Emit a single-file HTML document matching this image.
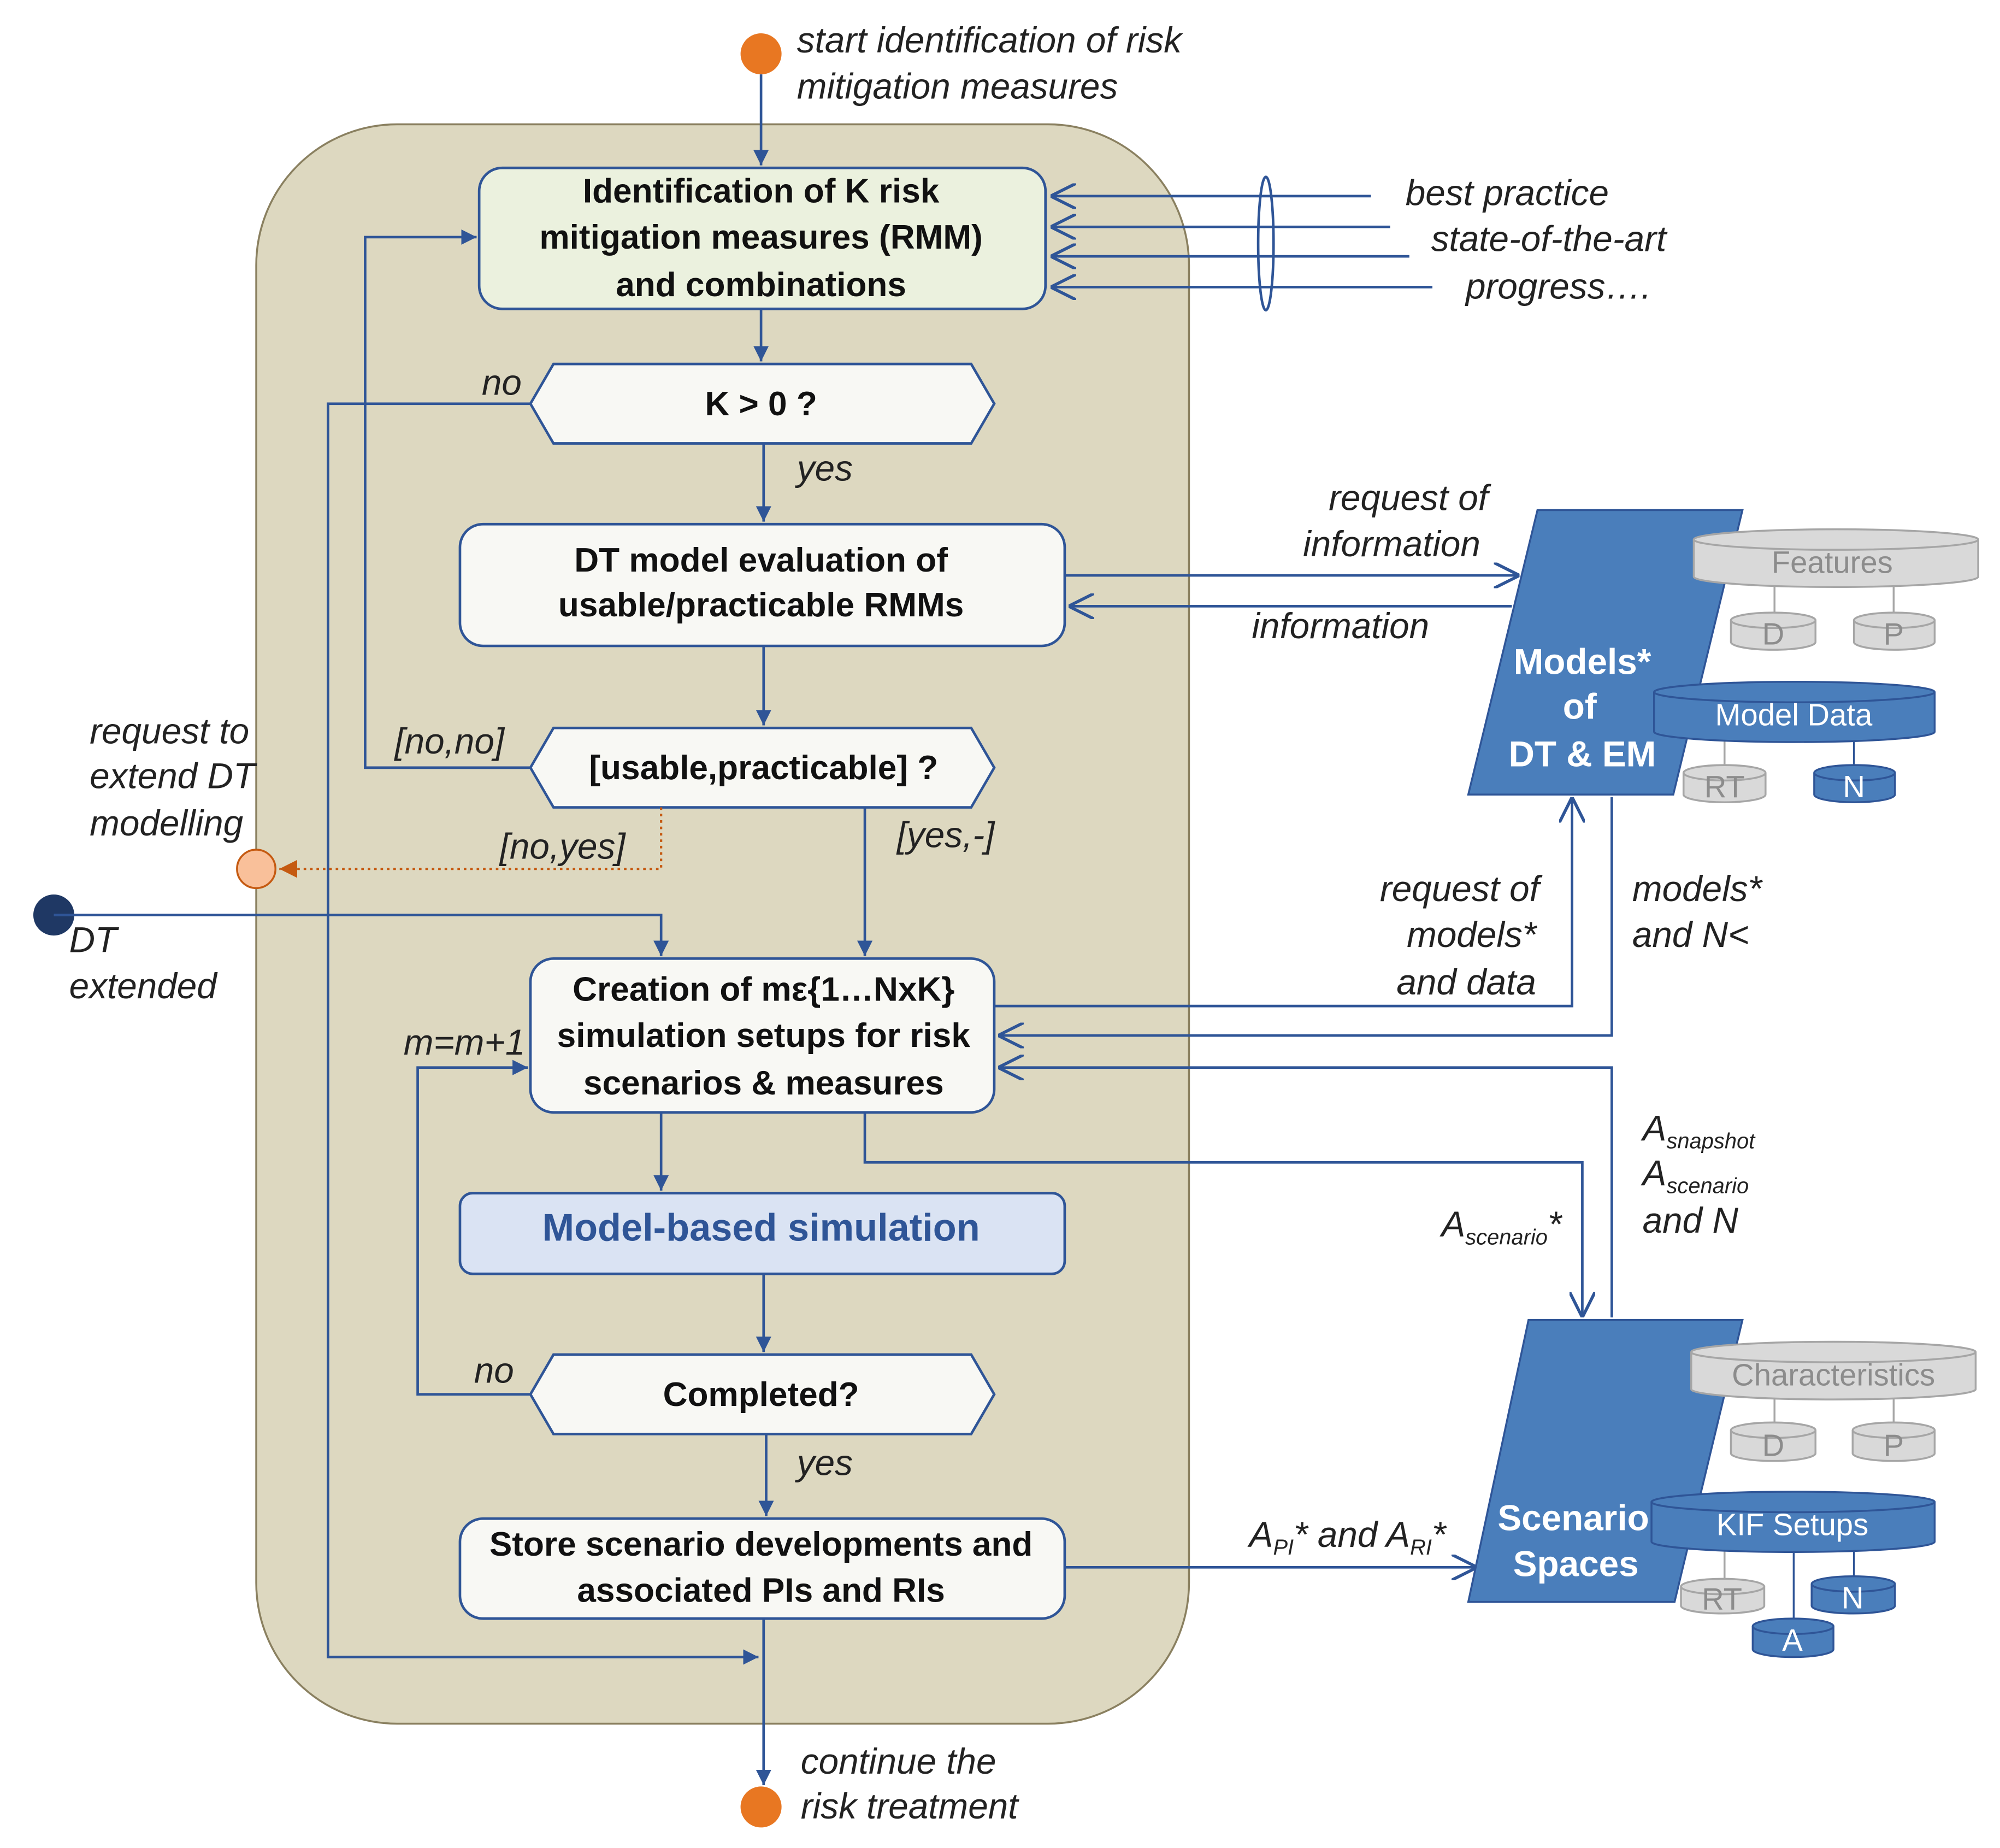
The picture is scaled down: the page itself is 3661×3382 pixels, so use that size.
<!DOCTYPE html>
<html><head><meta charset="utf-8">
<style>
html,body{margin:0;padding:0;background:#fff;}
svg{display:block;}
text{font-family:"Liberation Sans",sans-serif;}
.b{font-weight:bold;font-size:26.5px;fill:#111;}
.i{font-style:italic;font-size:28px;fill:#222;}
.w{font-weight:bold;font-size:28px;fill:#fff;}
.ln{stroke:#2f5597;stroke-width:2;fill:none;}
.box{fill:#f8f8f4;stroke:#2f5597;stroke-width:2;}
.cg{fill:#d9d9d9;stroke:#a6a6a6;stroke-width:1.5;}
.cb{fill:#4a7ebb;stroke:#2f5597;stroke-width:1.5;}
.tg{font-size:24px;fill:#8c8c8c;}
.tw{font-size:24px;fill:#fff;}
</style></head><body>
<svg width="3661" height="3382" viewBox="0 0 1561 1442" xmlns="http://www.w3.org/2000/svg">
<defs>
<marker id="a" markerWidth="12" markerHeight="12" refX="10" refY="5" orient="auto" markerUnits="userSpaceOnUse" viewBox="0 0 10 10"><path d="M0,0 L10,5 L0,10 Z" fill="#2f5597"/></marker>
<marker id="o" markerWidth="20" markerHeight="20" refX="10" refY="5" orient="auto" markerUnits="userSpaceOnUse" viewBox="0 0 10 10"><path d="M0,0 L10,5 L0,10" fill="none" stroke="#2f5597" stroke-width="1.2"/></marker>
<marker id="r" markerWidth="14" markerHeight="14" refX="10" refY="5" orient="auto" markerUnits="userSpaceOnUse" viewBox="0 0 10 10"><path d="M0,0 L10,5 L0,10 Z" fill="#c55a11"/></marker>
</defs>
<rect x="0" y="0" width="1561" height="1442" fill="#fff"/>
<rect x="200" y="97" width="728" height="1248" rx="110" fill="#ddd8c0" stroke="#8a8060" stroke-width="1.5"/>

<circle cx="594" cy="42" r="16" fill="#e87722"/>
<text class="i" x="622" y="41">start identification of risk</text>
<text class="i" x="622" y="77">mitigation measures</text>
<line class="ln" x1="594" y1="58" x2="594" y2="129" marker-end="url(#a)"/>

<rect x="374" y="131" width="442" height="110" rx="18" fill="#ebf1de" stroke="#2f5597" stroke-width="2"/>
<text class="b" x="594" y="158" text-anchor="middle">Identification of K risk</text>
<text class="b" x="594" y="194" text-anchor="middle">mitigation measures (RMM)</text>
<text class="b" x="594" y="231" text-anchor="middle">and combinations</text>
<line class="ln" x1="594" y1="241" x2="594" y2="282" marker-end="url(#a)"/>

<line class="ln" x1="1070" y1="153" x2="820" y2="153" marker-end="url(#o)"/>
<line class="ln" x1="1085" y1="177" x2="820" y2="177" marker-end="url(#o)"/>
<line class="ln" x1="1100" y1="200" x2="820" y2="200" marker-end="url(#o)"/>
<line class="ln" x1="1118" y1="224" x2="820" y2="224" marker-end="url(#o)"/>
<ellipse cx="988" cy="190" rx="6" ry="52" fill="none" stroke="#2f5597" stroke-width="2"/>
<text class="i" x="1097" y="160">best practice</text>
<text class="i" x="1117" y="196">state-of-the-art</text>
<text class="i" x="1144" y="233">progress….</text>

<polygon class="box" points="432,284 758,284 776,315 758,346 432,346 414,315"/>
<text class="b" x="594" y="324" text-anchor="middle">K &gt; 0 ?</text>
<text class="i" x="376" y="308">no</text>
<polyline class="ln" points="414,315 256,315 256,1293 592,1293" marker-end="url(#a)"/>
<text class="i" x="622" y="375">yes</text>
<line class="ln" x1="596" y1="346" x2="596" y2="407" marker-end="url(#a)"/>

<rect class="box" x="359" y="409" width="472" height="95" rx="18"/>
<text class="b" x="594" y="446" text-anchor="middle">DT model evaluation of</text>
<text class="b" x="594" y="481" text-anchor="middle">usable/practicable RMMs</text>
<line class="ln" x1="596" y1="504" x2="596" y2="566" marker-end="url(#a)"/>
<line class="ln" x1="831" y1="449" x2="1186" y2="449" marker-end="url(#o)"/>
<line class="ln" x1="1180" y1="473" x2="834" y2="473" marker-end="url(#o)"/>
<text class="i" x="1037" y="398">request of</text>
<text class="i" x="1017" y="434">information</text>
<text class="i" x="977" y="498">information</text>

<polygon class="box" points="432,568 758,568 776,599 758,630 432,630 414,599"/>
<text class="b" x="596" y="608" text-anchor="middle">[usable,practicable] ?</text>
<text class="i" x="308" y="588">[no,no]</text>
<polyline class="ln" points="414,599 285,599 285,185 372,185" marker-end="url(#a)"/>
<text class="i" x="390" y="670">[no,yes]</text>
<polyline points="516,630 516,678 218,678" fill="none" stroke="#c55a11" stroke-width="1.8" stroke-dasharray="2,3" marker-end="url(#r)"/>
<circle cx="200" cy="678" r="15" fill="#f9c09a" stroke="#c55a11" stroke-width="1.5"/>
<text class="i" x="70" y="580">request to</text>
<text class="i" x="70" y="615">extend DT</text>
<text class="i" x="70" y="652">modelling</text>
<text class="i" x="700" y="661">[yes,-]</text>
<line class="ln" x1="675" y1="630" x2="675" y2="746" marker-end="url(#a)"/>

<circle cx="42" cy="714" r="16" fill="#1f3864"/>
<polyline class="ln" points="42,714 516,714 516,746" marker-end="url(#a)"/>
<text class="i" x="54" y="743">DT</text>
<text class="i" x="54" y="779">extended</text>

<rect class="box" x="414" y="748" width="362" height="120" rx="18"/>
<text class="b" x="596" y="781" text-anchor="middle">Creation of mε{1…NxK}</text>
<text class="b" x="596" y="817" text-anchor="middle">simulation setups for risk</text>
<text class="b" x="596" y="854" text-anchor="middle">scenarios &amp; measures</text>
<text class="i" x="315" y="823">m=m+1</text>
<polyline class="ln" points="414,1088 326,1088 326,833 412,833" marker-end="url(#a)"/>
<line class="ln" x1="516" y1="868" x2="516" y2="929" marker-end="url(#a)"/>

<polyline class="ln" points="776,785 1227,785 1227,622" marker-end="url(#o)"/>
<text class="i" x="1077" y="703">request of</text>
<text class="i" x="1098" y="739">models*</text>
<text class="i" x="1090" y="776">and data</text>
<polyline class="ln" points="1258,622 1258,808 779,808" marker-end="url(#o)"/>
<text class="i" x="1274" y="703">models*</text>
<text class="i" x="1274" y="739">and N&lt;</text>
<polyline class="ln" points="1258,1028 1258,833 779,833" marker-end="url(#o)"/>
<text class="i" x="1282" y="890">A<tspan font-size="17" dy="6">snapshot</tspan></text>
<text class="i" x="1282" y="925">A<tspan font-size="17" dy="6">scenario</tspan></text>
<text class="i" x="1282" y="962">and N</text>
<polyline class="ln" points="675,868 675,907 1235,907 1235,1028" marker-end="url(#o)"/>
<text class="i" x="1125" y="965">A<tspan font-size="17" dy="6">scenario</tspan><tspan dy="-6">*</tspan></text>

<rect x="359" y="931" width="472" height="63" rx="10" fill="#dae3f3" stroke="#2f5597" stroke-width="2"/>
<text x="594" y="968" text-anchor="middle" font-weight="bold" font-size="30" fill="#2f5597">Model-based simulation</text>
<line class="ln" x1="596" y1="994" x2="596" y2="1055" marker-end="url(#a)"/>

<polygon class="box" points="432,1057 758,1057 776,1088 758,1119 432,1119 414,1088"/>
<text class="b" x="594" y="1097" text-anchor="middle">Completed?</text>
<text class="i" x="370" y="1079">no</text>
<text class="i" x="622" y="1151">yes</text>
<line class="ln" x1="598" y1="1119" x2="598" y2="1183" marker-end="url(#a)"/>

<rect class="box" x="359" y="1185" width="472" height="78" rx="18"/>
<text class="b" x="594" y="1214" text-anchor="middle">Store scenario developments and</text>
<text class="b" x="594" y="1250" text-anchor="middle">associated PIs and RIs</text>
<line class="ln" x1="596" y1="1263" x2="596" y2="1393" marker-end="url(#a)"/>
<circle cx="594" cy="1410" r="16" fill="#e87722"/>
<text class="i" x="625" y="1384">continue the</text>
<text class="i" x="625" y="1419">risk treatment</text>
<line class="ln" x1="831" y1="1223" x2="1153" y2="1223" marker-end="url(#o)"/>
<text class="i" x="975" y="1207">A<tspan font-size="17" dy="6">PI</tspan><tspan dy="-6">* and A</tspan><tspan font-size="17" dy="6">RI</tspan><tspan dy="-6">*</tspan></text>

<line x1="1385" y1="455" x2="1385" y2="482" stroke="#a6a6a6" stroke-width="1.5"/>
<line x1="1478" y1="455" x2="1478" y2="482" stroke="#a6a6a6" stroke-width="1.5"/>
<line x1="1346" y1="575" x2="1346" y2="600" stroke="#a6a6a6" stroke-width="1.5"/>
<line x1="1447" y1="575" x2="1447" y2="600" stroke="#2f5597" stroke-width="1.5"/>
<polygon points="1200,398 1360,398 1306,620 1146,620" fill="#4a7ebb" stroke="#2f5597" stroke-width="1.5"/>
<text class="w" x="1235" y="526" text-anchor="middle">Models*</text>
<text class="w" x="1233" y="561" text-anchor="middle">of</text>
<text class="w" x="1235" y="598" text-anchor="middle">DT &amp; EM</text>

<path class="cg" d="M1322,421 V450 A111,8 0 0 0 1544,450 V421"/><ellipse class="cg" cx="1433" cy="421" rx="111" ry="8"/>
<text class="tg" x="1430" y="447" text-anchor="middle">Features</text>
<path class="cg" d="M1351,484 V501 A33,6 0 0 0 1417,501 V484"/><ellipse class="cg" cx="1384" cy="484" rx="33" ry="6"/>
<text class="tg" x="1384" y="503" text-anchor="middle">D</text>
<path class="cg" d="M1447,484 V501 A31.5,6 0 0 0 1510,501 V484"/><ellipse class="cg" cx="1478.5" cy="484" rx="31.5" ry="6"/>
<text class="tg" x="1478" y="503" text-anchor="middle">P</text>
<path class="cb" d="M1291,540 V571 A109.5,8 0 0 0 1510,571 V540"/><ellipse class="cb" cx="1400.5" cy="540" rx="109.5" ry="8"/>
<text class="tw" x="1400" y="566" text-anchor="middle">Model Data</text>
<path class="cg" d="M1314,603 V620 A32,6 0 0 0 1378,620 V603"/><ellipse class="cg" cx="1346" cy="603" rx="32" ry="6"/>
<text class="tg" x="1346" y="622" text-anchor="middle">RT</text>
<path class="cb" d="M1416,603 V620 A31.5,6 0 0 0 1479,620 V603"/><ellipse class="cb" cx="1447.5" cy="603" rx="31.5" ry="6"/>
<text class="tw" x="1447" y="622" text-anchor="middle">N</text>

<line x1="1385" y1="1088" x2="1385" y2="1114" stroke="#a6a6a6" stroke-width="1.5"/>
<line x1="1478" y1="1088" x2="1478" y2="1114" stroke="#a6a6a6" stroke-width="1.5"/>
<line x1="1346" y1="1206" x2="1346" y2="1236" stroke="#a6a6a6" stroke-width="1.5"/>
<line x1="1447" y1="1206" x2="1447" y2="1236" stroke="#2f5597" stroke-width="1.5"/>
<line x1="1400" y1="1206" x2="1400" y2="1268" stroke="#2f5597" stroke-width="1.5"/>
<polygon points="1193,1030 1360,1030 1307,1250 1146,1250" fill="#4a7ebb" stroke="#2f5597" stroke-width="1.5"/>
<text class="w" x="1228" y="1194" text-anchor="middle">Scenario</text>
<text class="w" x="1230" y="1230" text-anchor="middle">Spaces</text>

<path class="cg" d="M1320,1055 V1084 A111,8 0 0 0 1542,1084 V1055"/><ellipse class="cg" cx="1431" cy="1055" rx="111" ry="8"/>
<text class="tg" x="1431" y="1081" text-anchor="middle">Characteristics</text>
<path class="cg" d="M1351,1116 V1134 A33,6 0 0 0 1417,1134 V1116"/><ellipse class="cg" cx="1384" cy="1116" rx="33" ry="6"/>
<text class="tg" x="1384" y="1136" text-anchor="middle">D</text>
<path class="cg" d="M1446,1116 V1134 A32,6 0 0 0 1510,1134 V1116"/><ellipse class="cg" cx="1478" cy="1116" rx="32" ry="6"/>
<text class="tg" x="1478" y="1136" text-anchor="middle">P</text>
<path class="cb" d="M1289,1172 V1203 A110.5,8 0 0 0 1510,1203 V1172"/><ellipse class="cb" cx="1399.5" cy="1172" rx="110.5" ry="8"/>
<text class="tw" x="1399" y="1198" text-anchor="middle">KIF Setups</text>
<path class="cg" d="M1312,1238 V1253 A32.5,6 0 0 0 1377,1253 V1238"/><ellipse class="cg" cx="1344.5" cy="1238" rx="32.5" ry="6"/>
<text class="tg" x="1344" y="1256" text-anchor="middle">RT</text>
<path class="cb" d="M1414,1236 V1253 A32.5,6 0 0 0 1479,1253 V1236"/><ellipse class="cb" cx="1446.5" cy="1236" rx="32.5" ry="6"/>
<text class="tw" x="1446" y="1255" text-anchor="middle">N</text>
<path class="cb" d="M1368,1269 V1287 A31.5,6 0 0 0 1431,1287 V1269"/><ellipse class="cb" cx="1399.5" cy="1269" rx="31.5" ry="6"/>
<text class="tw" x="1399" y="1288" text-anchor="middle">A</text>
</svg>
</body></html>
